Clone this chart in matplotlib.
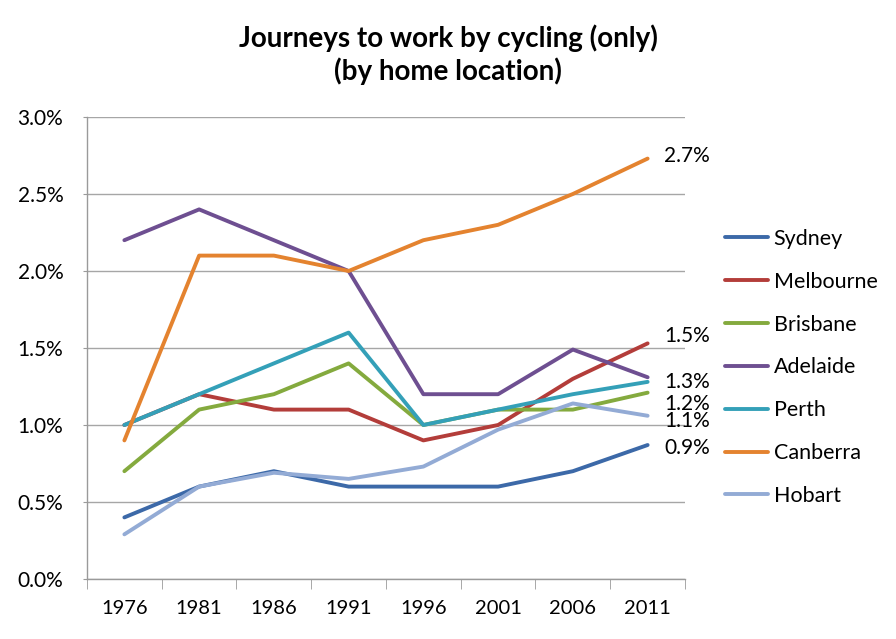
import matplotlib.pyplot as plt
from matplotlib.ticker import FuncFormatter
import numpy as np

plt.rcParams['font.family'] = ['Lato', 'DejaVu Sans']

years = ["1976", "1981", "1986", "1991", "1996", "2001", "2006", "2011"]
sydney = [0.40, 0.60, 0.70, 0.60, 0.60, 0.60, 0.70, 0.87]
melbourne = [1.00, 1.20, 1.10, 1.10, 0.90, 1.00, 1.30, 1.53]
brisbane = [0.70, 1.10, 1.20, 1.40, 1.00, 1.10, 1.10, 1.21]
adelaide = [2.20, 2.40, 2.20, 2.00, 1.20, 1.20, 1.49, 1.31]
perth = [1.00, 1.20, 1.40, 1.60, 1.00, 1.10, 1.20, 1.28]
canberra = [0.90, 2.10, 2.10, 2.00, 2.20, 2.30, 2.50, 2.73]
hobart = [0.29, 0.60, 0.69, 0.65, 0.73, 0.97, 1.14, 1.06]

names = ["Sydney", "Melbourne", "Brisbane", "Adelaide", "Perth", "Canberra", "Hobart"]
series = [sydney, melbourne, brisbane, adelaide, perth, canberra, hobart]
colors = ["#3C69A8", "#B33D3A", "#84AA3E", "#6E4F91", "#34A0B8", "#E4832F", "#93ABD5"]

# which series get an end label, and a small vertical nudge (points) to keep them apart
end_labels = {"Canberra": 2, "Melbourne": 5, "Perth": 0, "Brisbane": -8, "Hobart": -4, "Sydney": -2}

x = np.arange(len(years))

fig = plt.figure(figsize=(8.96, 6.39), dpi=100)
ax = fig.add_axes([0.0971, 0.0939, 0.6674, 0.723])

for name, vals, c in zip(names, series, colors):
    ax.plot(x, vals, color=c, linewidth=2.8, label=name, solid_capstyle='round')
    if name in end_labels:
        ax.annotate(f"{vals[-1]:.1f}%", (x[-1], vals[-1]), xytext=(12, end_labels[name]),
                    textcoords='offset points', va='center', ha='left', fontsize=15)

ax.set_xlim(-0.5, len(years) - 0.5)
ax.set_ylim(0, 3.0)
ax.set_yticks(np.arange(0, 3.01, 0.5))
ax.yaxis.set_major_formatter(FuncFormatter(lambda v, p: f"{v:.1f}%"))
ax.set_xticks(x)
ax.set_xticklabels(years)
ax.set_xticks(np.arange(-0.5, len(years), 1.0), minor=True)
ax.tick_params(axis='x', which='major', length=0, pad=15, labelsize=14.5)
ax.tick_params(axis='x', which='minor', length=7, color='#9A9A9A', direction='out')
ax.tick_params(axis='y', which='major', length=3, color='#9A9A9A', pad=14, labelsize=15)

ax.grid(axis='y', color='#A6A6A6', linewidth=1)
ax.set_axisbelow(True)
for s in ['top', 'right']:
    ax.spines[s].set_visible(False)
for s in ['left', 'bottom']:
    ax.spines[s].set_color('#9A9A9A')
    ax.spines[s].set_linewidth(1)

fig.text(0.5, 0.914, "Journeys to work by cycling (only)\n(by home location)", ha='center', va='center',
         fontsize=20, fontweight='bold', linespacing=1.25)

leg = ax.legend(loc='center left', bbox_to_anchor=(1.035, 0.458), frameon=False, fontsize=15.5,
                handlelength=2.0, handletextpad=0.25, labelspacing=1.06)
for h in leg.get_lines():
    h.set_linewidth(2.8)

fig.savefig("out.png", dpi=100)
